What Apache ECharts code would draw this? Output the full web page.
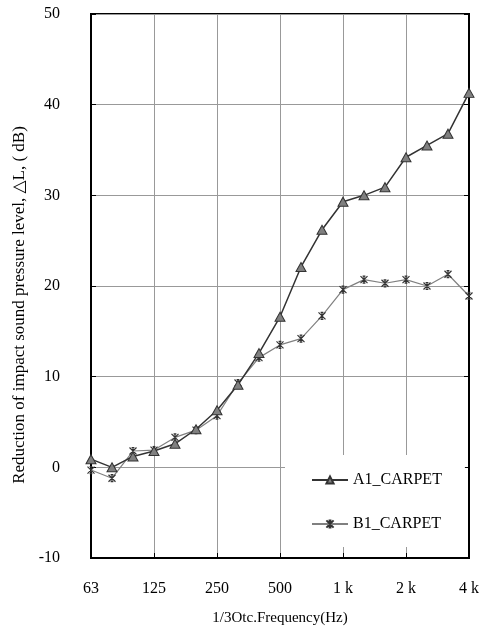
<!DOCTYPE html>
<html>
<head>
<meta charset="utf-8">
<script src="https://cdn.jsdelivr.net/npm/echarts@6/dist/echarts.min.js"></script>
<style>
html,body{margin:0;padding:0;background:#fff;}
#chart{width:489px;height:631px;}
</style>
</head>
<body>
<div id="chart"></div>
<script>
const categories = ['63','80','100','125','160','200','250','315','400','500','630','800','1 k','1.25 k','1.6 k','2 k','2.5 k','3.15 k','4 k'];
const labeledTicks = ['63','125','250','500','1 k','2 k','4 k'];
const a1Carpet = [0.9, 0.0, 1.2, 1.8, 2.6, 4.2, 6.3, 9.1, 12.6, 16.6, 22.1, 26.2, 29.3, 30.0, 30.9, 34.2, 35.5, 36.8, 41.3];
const b1Carpet = [-0.3, -1.2, 1.8, 1.9, 3.3, 4.1, 5.7, 9.3, 12.1, 13.5, 14.2, 16.7, 19.6, 20.7, 20.3, 20.7, 20.0, 21.3, 18.9];
const seriesNames = ['A1_CARPET', 'B1_CARPET'];
const yTicks = { min: -10, max: 50, interval: 10 };

const FONT = '"Liberation Serif", "DejaVu Serif", serif';
const asterisk = 'path://M0,0 L10,10 M10,0 L0,10 M5,0 L5,10 M3,0 L7,0 M3,10 L7,10';
const showIdx = (i) => labeledTicks.indexOf(categories[i]) >= 0;

const chart = echarts.init(document.getElementById('chart'), null, { renderer: 'canvas' });
chart.setOption({
  animation: false,
  backgroundColor: '#fff',
  grid: { left: 91, right: 20, top: 14, bottom: 72, show: true, borderColor: '#000', borderWidth: 2, backgroundColor: 'transparent' },
  xAxis: {
    type: 'category',
    data: categories,
    boundaryGap: false,
    name: '1/3Otc.Frequency(Hz)',
    nameLocation: 'middle',
    nameGap: 53,
    nameTextStyle: { fontFamily: FONT, fontSize: 15, color: '#000' },
    axisLine: { onZero: false, lineStyle: { color: '#000', width: 2 } },
    axisTick: { inside: true, length: 5, interval: (i) => showIdx(i), lineStyle: { color: '#000' } },
    axisLabel: { interval: (i) => showIdx(i), margin: 23, fontFamily: FONT, fontSize: 16, color: '#000' },
    splitLine: { show: true, interval: (i) => showIdx(i), lineStyle: { color: '#999', width: 1 } }
  },
  yAxis: [{
    type: 'value',
    min: yTicks.min, max: yTicks.max, interval: yTicks.interval,
    name: 'Reduction of impact sound pressure level, △L, ( dB)',
    nameLocation: 'middle',
    nameGap: 60,
    nameTextStyle: { fontFamily: FONT, fontSize: 17, color: '#000', padding: [0, 38, 0, 0] },
    axisLine: { show: true, onZero: false, lineStyle: { color: '#000', width: 2 } },
    axisTick: { show: true, inside: true, length: 5, lineStyle: { color: '#000' } },
    axisLabel: { margin: 31, fontFamily: FONT, fontSize: 16, color: '#000' },
    splitLine: { show: true, lineStyle: { color: '#999', width: 1 } }
  }, {
    type: 'value', position: 'right',
    min: yTicks.min, max: yTicks.max, interval: yTicks.interval,
    axisLine: { show: true, onZero: false, lineStyle: { color: '#000', width: 2 } },
    axisTick: { show: true, inside: true, length: 5, lineStyle: { color: '#000' } },
    axisLabel: { show: false },
    splitLine: { show: false }
  }],
  legend: {
    orient: 'vertical',
    left: 285, top: 455,
    width: 180,
    padding: [17, 23, 15, 26],
    backgroundColor: '#fff',
    itemWidth: 36, itemHeight: 9, itemGap: 28,
    textStyle: { fontFamily: FONT, fontSize: 16, color: '#000', lineHeight: 16 },
    data: seriesNames,
    z: 10
  },
  series: [{
    name: seriesNames[0],
    type: 'line',
    data: a1Carpet,
    symbol: 'triangle',
    symbolSize: [10, 9],
    lineStyle: { color: '#333', width: 1.5 },
    itemStyle: { color: '#808080', borderColor: '#333', borderWidth: 1 },
    z: 3
  }, {
    name: seriesNames[1],
    type: 'line',
    data: b1Carpet,
    symbol: asterisk,
    symbolSize: 7,
    lineStyle: { color: '#808080', width: 1.2 },
    itemStyle: { color: '#333', borderColor: '#333', borderWidth: 1.2 },
    z: 2
  }]
});
</script>
</body>
</html>
